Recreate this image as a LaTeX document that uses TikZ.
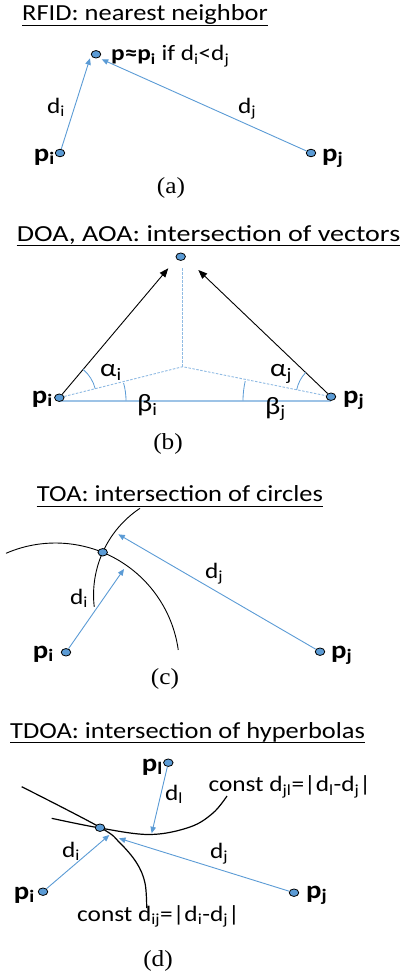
\documentclass[tikz,border=0pt]{standalone}
\usepackage{fontspec}
\setmainfont{Carlito}[FakeStretch=1.15]
\newfontfamily\widefont{Carlito}[FakeStretch=1.22]
\newfontfamily\capfont{Liberation Serif}[FakeStretch=1.1]
\usetikzlibrary{arrows.meta,shapes.geometric,backgrounds}
\definecolor{dotblue}{HTML}{5B9BD5}
\definecolor{lineblue}{HTML}{5B9BD5}
\definecolor{lightblue}{HTML}{9DC3E6}
\begin{document}
\begin{tikzpicture}[x=1pt,y=-1pt,
  dot/.style={ellipse,draw=black,line width=0.8pt,fill=dotblue,minimum width=9.5pt,minimum height=7.5pt,inner sep=0pt},
  titletxt/.style={anchor=base west,inner sep=0pt,font=\fontsize{23}{28}\selectfont},
  lbl/.style={anchor=base west,inner sep=0pt,font=\fontsize{22}{26}\selectfont},
  plbl/.style={anchor=base west,inner sep=0pt,font=\fontsize{25}{30}\selectfont\bfseries},
  glbl/.style={anchor=base west,inner sep=0pt,font=\fontsize{25}{30}\selectfont},
  captxt/.style={anchor=base,inner sep=0pt,font=\capfont\fontsize{23}{27}\selectfont},
  barrow/.style={-{Triangle[length=6.5pt,width=5.5pt]},draw=lineblue,line width=0.9pt},
  karrow/.style={-{Triangle[length=9pt,width=7pt]},draw=black,line width=0.9pt},
  ul/.style={line width=1.2pt},
  dsh/.style={draw=lightblue!80!lineblue,line width=0.9pt,dash pattern=on 2.5pt off 1.5pt},
  angarc/.style={draw=lineblue,line width=0.8pt},
  curve/.style={draw=black,line width=1pt}
]
\useasboundingbox (0,0) rectangle (404,979);

% ---------- (a)
\node[titletxt] (ta) at (22,20.7) {RFID: nearest neighbor};
\draw[ul] ([yshift=-4.5pt]ta.base west) -- ([yshift=-4.5pt]ta.base east);
\node[dot] (pa) at (96,54.3) {};
\node[dot] (pai) at (60,153) {};
\node[dot] (paj) at (311,153) {};
\coordinate (tai) at (90,58.3);
\coordinate (taj) at (101.7,59.3);
\draw[barrow] (pai) -- (tai);
\draw[barrow] (paj) -- (taj);
\node[lbl] (la) at (111,61) {\textbf{p≈p\textsubscript{i}} if d\textsubscript{i}<d\textsubscript{j}};
\node[plbl,anchor=base east] (lai) at (55,161) {p\textsubscript{i}};
\node[plbl] (laj) at (322,161) {p\textsubscript{j}};
\node[lbl] (ldai) at (47,113.3) {d\textsubscript{i}};
\node[lbl] (ldaj) at (238,113.3) {d\textsubscript{j}};
\node[captxt] (ca) at (171,193) {(a)};

% ---------- (b)
\node[titletxt,font=\widefont\fontsize{23}{28}\selectfont] (tb) at (16.7,241.7) {DOA, AOA: intersection of vectors};
\draw[ul] ([yshift=-4pt]tb.base west) -- ([yshift=-4pt]tb.base east);
\node[dot] (pb) at (180.7,256.7) {};
\node[dot] (pbi) at (59.3,397.7) {};
\node[dot] (pbj) at (331,396.7) {};
\coordinate (cb) at (182.7,366.7);
\coordinate (vb) at (182.7,268);
\coordinate (hbi) at (60,400.7);
\coordinate (hbj) at (331,400.7);
\coordinate (tbi) at (168.3,268.3);
\coordinate (tbj) at (198.3,270);
\begin{scope}[on background layer]
\draw[lightblue,line width=1.6pt] (hbi) -- (hbj);
\draw[dsh] (pbi) -- (cb) -- (pbj);
\draw[dsh] (vb) -- (cb);
\end{scope}
\draw[karrow] (pbi) -- (tbi);
\draw[karrow] (pbj) -- (tbj);
\draw[angarc] ([shift={(14.1:37pt)}]pbi.center) arc[start angle=14.1,end angle=49.9,radius=37pt];
\draw[angarc] ([shift={(0:66pt)}]hbi) arc[start angle=0,end angle=15.5,radius=66pt];
\draw[angarc] ([shift={(136.3:35pt)}]pbj.center) arc[start angle=136.3,end angle=168.6,radius=35pt];
\draw[angarc] ([shift={(167.1:88pt)}]hbj) arc[start angle=167.1,end angle=180,radius=88pt];
\node[glbl] (lai2) at (100,376.7) {α\textsubscript{i}};
\node[glbl] (laj2) at (270,376.7) {α\textsubscript{j}};
\node[glbl] (lbi2) at (137,411.7) {β\textsubscript{i}};
\node[glbl] (lbj2) at (265,414) {β\textsubscript{j}};
\node[plbl,anchor=base east] (lbpi) at (53,403) {p\textsubscript{i}};
\node[plbl] (lbpj) at (343,403) {p\textsubscript{j}};
\node[captxt] (cbcap) at (168,449) {(b)};

% ---------- (c)
\node[titletxt] (tc) at (36.7,501.7) {TOA: intersection of circles};
\draw[ul] ([yshift=-4.5pt]tc.base west) -- ([yshift=-4.5pt]tc.base east);
\node[dot] (pc) at (102.7,552.3) {};
\node[dot] (pci) at (66,652.3) {};
\node[dot] (pcj) at (320,651.7) {};
\coordinate (c1s) at (6,553.3);
\coordinate (c2s) at (140,508.3);
\begin{scope}[on background layer]
\draw[curve,line width=0.9pt] (c1s) arc[start angle=113.5,end angle=7.9,radius=124pt];
\draw[curve,line width=0.9pt] (c2s) arc[start angle=123.6,end angle=186.6,radius=104pt];
\end{scope}
\coordinate (tci) at (124,569);
\coordinate (tcj) at (118.3,534.3);
\draw[barrow] (pci) -- (tci);
\draw[barrow] (pcj) -- (tcj);
\node[lbl] (lcdi) at (70,604) {d\textsubscript{i}};
\node[lbl] (lcdj) at (205,578) {d\textsubscript{j}};
\node[plbl,anchor=base east] (lcpi) at (54,658) {p\textsubscript{i}};
\node[plbl] (lcpj) at (331,658) {p\textsubscript{j}};
\node[captxt] (cccap) at (165,684) {(c)};

% ---------- (d)
\node[titletxt] (td) at (10,738.3) {TDOA: intersection of hyperbolas};
\draw[ul] ([yshift=-4pt]td.base west) -- ([yshift=-4pt]td.base east);
\node[dot] (pdl) at (168.3,762.7) {};
\node[dot] (pd) at (100,827.7) {};
\node[dot] (pdi) at (43,891.7) {};
\node[dot] (pdj) at (294,892.7) {};
\begin{scope}[on background layer]
\draw[curve,line width=1.2pt] plot[smooth,tension=0.6] coordinates {(21.7,786.7) (100,827.3) (120,843) (136.7,863) (145,883) (146.7,908)};
\draw[curve,line width=1.2pt] plot[smooth,tension=0.6] coordinates {(51.7,818.3) (100,828) (150,834.5) (190,827) (213,813) (227,796)};
\end{scope}
\coordinate (tdl) at (151.7,833.3);
\coordinate (tdi) at (109.3,835);
\coordinate (tdj) at (119,838.3);
\draw[barrow] (pdl) -- (tdl);
\draw[barrow] (pdi) -- (tdi);
\draw[barrow] (pdj) -- (tdj);
\node[lbl] (lddl) at (165,800) {d\textsubscript{l}};
\node[lbl] (ldjl) at (208.3,791.7) {const d\textsubscript{jl}=|d\textsubscript{l}-d\textsubscript{j}|};
\node[lbl] (lddi) at (62,857) {d\textsubscript{i}};
\node[lbl] (lddj) at (210,858) {d\textsubscript{j}};
\node[plbl,anchor=base east] (ldpl) at (163,771) {p\textsubscript{l}};
\node[plbl,anchor=base east] (ldpi) at (35,899) {p\textsubscript{i}};
\node[plbl] (ldpj) at (306,898) {p\textsubscript{j}};
\node[lbl] (ldij) at (77,921) {const d\textsubscript{ij}=|d\textsubscript{i}-d\textsubscript{j}|};
\node[captxt] (cdcap) at (158,966) {(d)};
\end{tikzpicture}
\end{document}
